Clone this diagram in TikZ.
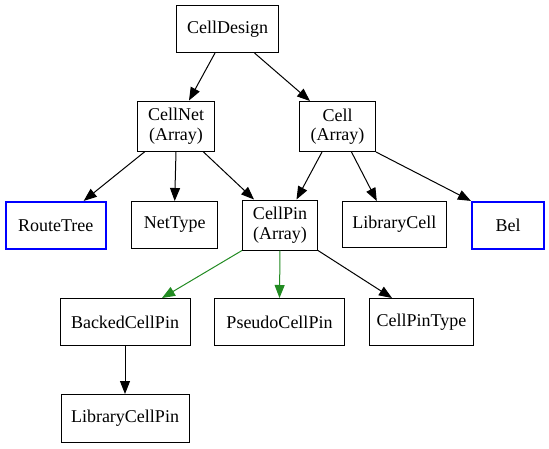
\documentclass[tikz,border=0pt]{standalone}
\usepackage{fontspec}
\setmainfont{Liberation Serif}
\usetikzlibrary{arrows.meta}
\definecolor{fgreen}{HTML}{228B22}
\begin{document}
\begin{tikzpicture}[x=1pt,y=-1pt,
  box/.style={draw=black,line width=1pt,inner sep=0pt,align=center,
    font=\fontsize{18}{19.5}\selectfont},
  bluebox/.style={box,draw=blue,line width=2.2pt},
  edge/.style={draw=black,line width=1pt,-{Triangle[length=13pt,width=10pt]}},
  gedge/.style={edge,draw=fgreen,-{Triangle[length=13pt,width=10pt,fill=fgreen]}}]
\useasboundingbox (0,0) rectangle (549,448);
\node[box,minimum width=102pt,minimum height=47pt] (cd) at (227.5,29) {CellDesign};
\node[box,minimum width=77pt,minimum height=50pt] (cn) at (176,126) {CellNet\\(Array)};
\node[box,minimum width=76pt,minimum height=50pt] (cell) at (337.5,126.5) {Cell\\(Array)};
\node[bluebox,minimum width=100pt,minimum height=47pt] (rt) at (55.7,225.5) {RouteTree};
\node[box,minimum width=86pt,minimum height=47pt] (nt) at (174.7,225) {NetType};
\node[box,minimum width=75pt,minimum height=50pt] (cp) at (280,225) {CellPin\\(Array)};
\node[box,minimum width=104pt,minimum height=46pt] (lc) at (394.3,224.5) {LibraryCell};
\node[bluebox,minimum width=72pt,minimum height=47pt] (bel) at (508,225.5) {Bel};
\node[box,minimum width=130pt,minimum height=47pt] (bcp) at (125,322) {BackedCellPin};
\node[box,minimum width=130pt,minimum height=47pt] (pcp) at (279.5,322) {PseudoCellPin};
\node[box,minimum width=104pt,minimum height=47pt] (cpt) at (421.5,322) {CellPinType};
\node[box,minimum width=128pt,minimum height=48pt] (lcp) at (125,418.5) {LibraryCellPin};
\draw[edge] ([xshift=-12.5pt]cd.south) -- ([xshift=13pt]cn.north);
\draw[edge] ([xshift=27pt]cd.south) -- ([xshift=-27.5pt]cell.north);
\draw[edge] ([xshift=-31pt]cn.south) -- ([xshift=28pt]rt.north);
\draw[edge] (cn.south) -- (nt.north);
\draw[edge] ([xshift=27pt]cn.south) -- ([xshift=-26pt]cp.north);
\draw[edge] ([xshift=-15.5pt]cell.south) -- ([xshift=16.5pt]cp.north);
\draw[edge] ([xshift=14pt]cell.south) -- ([xshift=-17.5pt]lc.north);
\draw[edge] (cell.south east) -- (bel.north west);
\draw[gedge] (cp.south west) -- ([xshift=37pt]bcp.north);
\draw[gedge] (cp.south) -- (pcp.north);
\draw[edge] (cp.south east) -- ([xshift=-29.5pt]cpt.north);
\draw[edge] (bcp.south) -- (lcp.north);
\end{tikzpicture}
\end{document}
